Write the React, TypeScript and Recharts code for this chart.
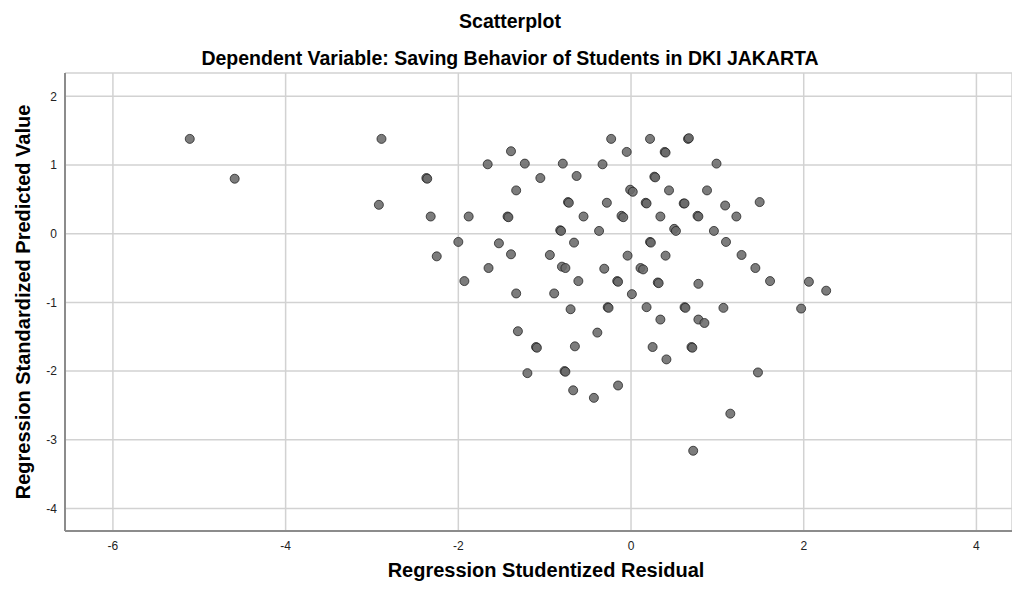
import React from 'react';
import { ScatterChart, Scatter, XAxis, YAxis, CartesianGrid } from 'recharts';

// Regression Studentized Residual (x) / Regression Standardized Predicted Value (y)
const residuals = [
  -5.11, -4.59, -2.89, -0.23, -1.39, -0.05, -1.66, -1.23, -0.79, -0.33,
  -2.37, -2.36, -1.05, -0.63, -1.33, -0.01, 0.02, -2.92, -0.73, -0.72,
  -0.28, -2.32, -1.88, -1.43, -1.42, -0.55, -0.11, -0.09, -0.82, -0.81,
  -0.37, -2.0, -1.53, -0.66, -2.25, -1.39, -0.94, -0.04, -1.65, -0.8,
  -0.76, -0.31, -1.93, -0.61, -0.16, -0.15, -1.33, -0.89, 0.01, -0.7,
  -0.27, -0.26, -1.31, -0.39, -1.1, -1.09, -0.65, -1.2, -0.77, -0.76,
  -0.67, -0.15, -0.43, 0.22, 0.66, 0.67, 0.39, 0.4, 0.99, 0.27,
  0.28, 0.44, 0.88, 0.17, 0.18, 0.61, 0.62, 1.09, 1.49, 0.34,
  0.77, 0.78, 1.22, 0.5, 0.52, 0.96, 0.22, 0.23, 1.1, 0.4,
  1.28, 0.11, 0.14, 1.44, 0.31, 0.32, 0.78, 1.61, 2.06, 2.26,
  0.18, 0.62, 0.63, 1.07, 1.97, 0.34, 0.78, 0.85, 0.25, 0.7,
  0.71, 0.41, 1.47, 1.15, 0.72,
];

const predicted = [
  1.38, 0.8, 1.38, 1.38, 1.2, 1.19, 1.01, 1.02, 1.02, 1.01,
  0.81, 0.8, 0.81, 0.84, 0.63, 0.64, 0.61, 0.42, 0.46, 0.45,
  0.45, 0.25, 0.25, 0.25, 0.24, 0.25, 0.26, 0.24, 0.05, 0.04,
  0.04, -0.12, -0.14, -0.13, -0.33, -0.3, -0.31, -0.32, -0.5, -0.48,
  -0.5, -0.51, -0.69, -0.69, -0.69, -0.7, -0.87, -0.87, -0.88, -1.1,
  -1.07, -1.08, -1.42, -1.44, -1.65, -1.66, -1.64, -2.03, -2.0, -2.01,
  -2.28, -2.21, -2.39, 1.38, 1.38, 1.39, 1.19, 1.18, 1.02, 0.83,
  0.82, 0.63, 0.63, 0.45, 0.44, 0.44, 0.44, 0.41, 0.46, 0.25,
  0.26, 0.25, 0.25, 0.07, 0.04, 0.04, -0.12, -0.13, -0.12, -0.32,
  -0.31, -0.5, -0.52, -0.5, -0.71, -0.72, -0.73, -0.69, -0.7, -0.83,
  -1.07, -1.07, -1.08, -1.08, -1.09, -1.25, -1.25, -1.3, -1.65, -1.65,
  -1.66, -1.83, -2.02, -2.62, -3.16,
];

const xTicks = [-6, -4, -2, 0, 2, 4];
const yTicks = [2, 1, 0, -1, -2, -3, -4];

const points = residuals.map((x, i) => ({ x, y: predicted[i] }));

const FONT = '"Liberation Sans", Arial, sans-serif';

const Dot = (props: any) => {
  const { cx, cy } = props;
  if (cx == null || cy == null) return null;
  return (
    <circle
      cx={cx}
      cy={cy}
      r={4.5}
      fill="#6a6a6a"
      fillOpacity={0.88}
      stroke="#1e1e1e"
      strokeOpacity={0.75}
      strokeWidth={1}
    />
  );
};

export default function App() {
  return (
    <div style={{ position: 'absolute', left: 0, top: 0, width: 1012, height: 592, background: '#fff' }}>
      <ScatterChart width={1012} height={592} margin={{ top: 73, right: 0, bottom: 0, left: 0 }}>
        <CartesianGrid stroke="#d2d2d2" strokeWidth={1.5} />
        <XAxis
          type="number"
          dataKey="x"
          domain={[-6.555, 4.412]}
          ticks={xTicks}
          allowDataOverflow
          height={61}
          tickLine={false}
          tickMargin={4}
          axisLine={{ stroke: '#8c8c8c', strokeWidth: 2 }}
          tick={{ fontSize: 12, fill: '#222', fontFamily: FONT }}
        />
        <YAxis
          type="number"
          dataKey="y"
          domain={[-4.328, 2.339]}
          ticks={yTicks}
          allowDataOverflow
          width={65}
          tickLine={false}
          axisLine={{ stroke: '#8c8c8c', strokeWidth: 2 }}
          tick={{ fontSize: 12, fill: '#222', fontFamily: FONT }}
        />
        <Scatter data={points} shape={<Dot />} isAnimationActive={false} />
      </ScatterChart>
      <svg
        width={1012}
        height={592}
        style={{ position: 'absolute', left: 0, top: 0, pointerEvents: 'none' }}
      >
        <g fontFamily={FONT} fontWeight="bold" fill="#000">
          <text x={510} y={28} textAnchor="middle" fontSize={19.5}>Scatterplot</text>
          <text x={510} y={65} textAnchor="middle" fontSize={19.5}>
            Dependent Variable: Saving Behavior of Students in DKI JAKARTA
          </text>
          <text x={546} y={577} textAnchor="middle" fontSize={20}>Regression Studentized Residual</text>
          <text x={30} y={302} textAnchor="middle" fontSize={20} transform="rotate(-90 30 302)">
            Regression Standardized Predicted Value
          </text>
        </g>
      </svg>
    </div>
  );
}
